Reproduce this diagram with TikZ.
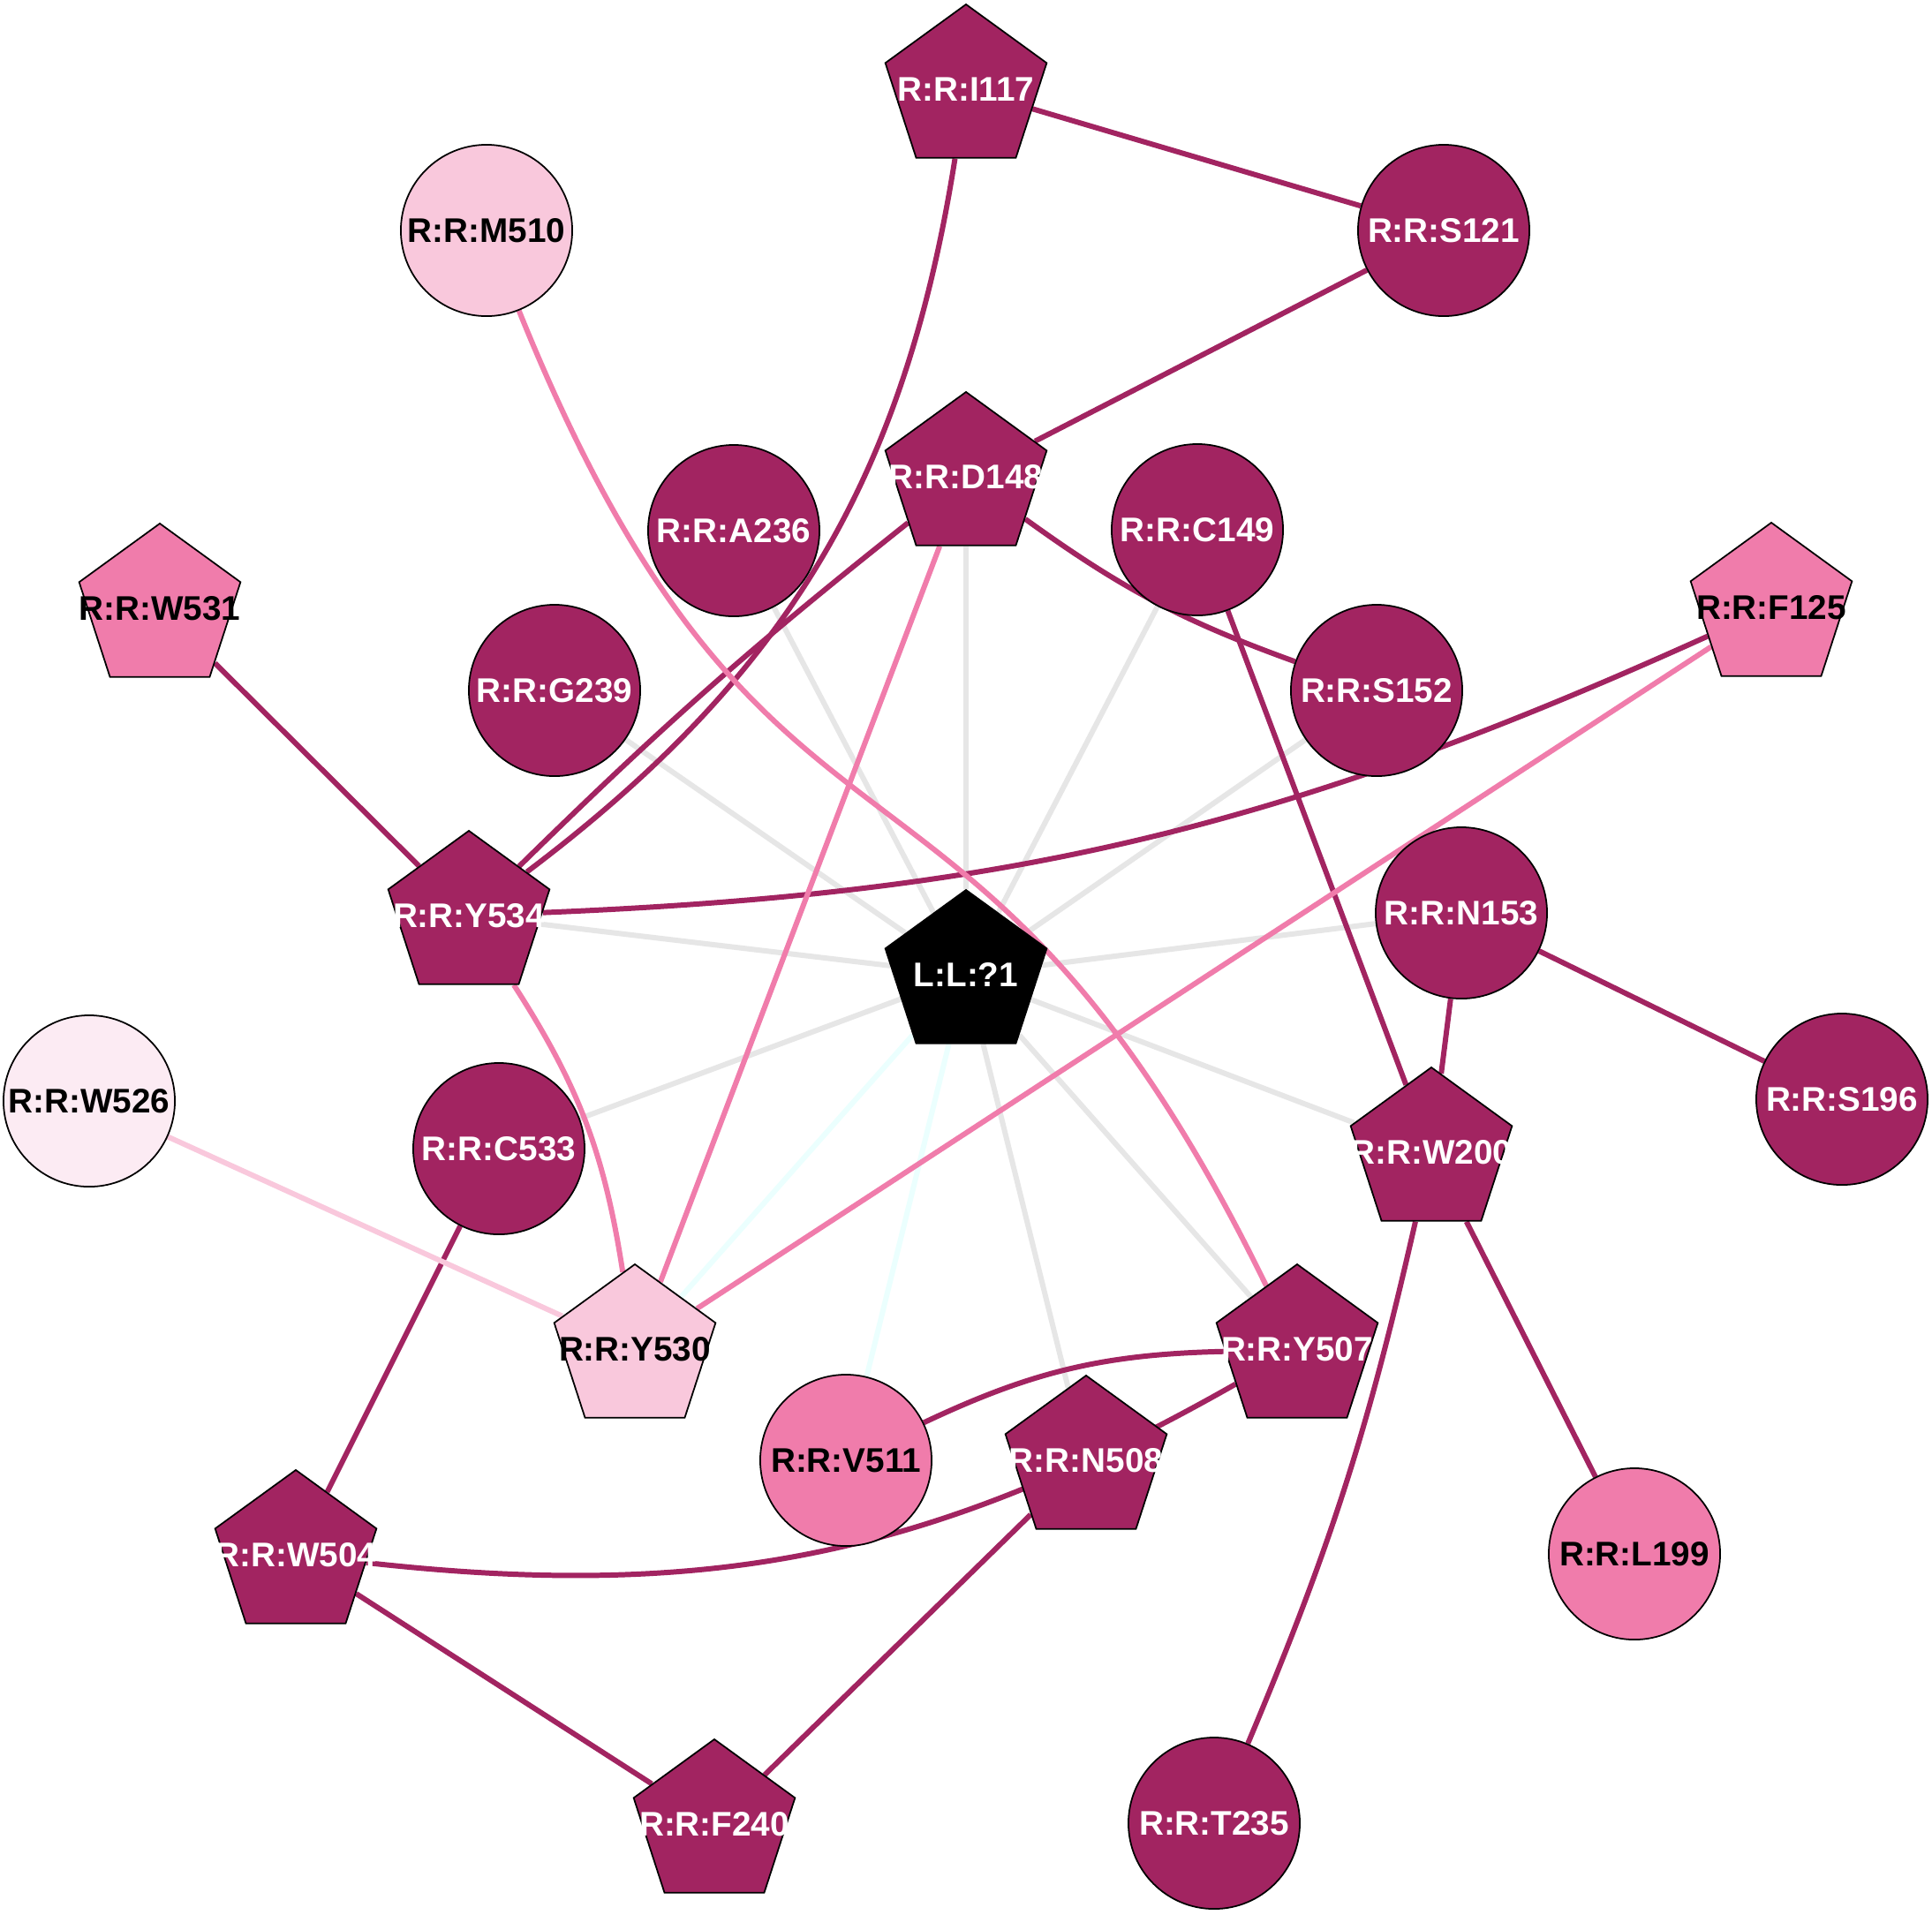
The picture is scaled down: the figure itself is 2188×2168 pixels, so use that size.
\documentclass[tikz,border=0pt]{standalone}
\usepackage{fontspec}
\setmainfont{Liberation Sans}
\usetikzlibrary{shapes.geometric}
\pgfdeclarelayer{bg}
\pgfsetlayers{bg,main}

\definecolor{resdark}{HTML}{A22461}
\definecolor{respink}{HTML}{F07CAB}
\definecolor{reslight}{HTML}{F9C8DC}
\definecolor{respale}{HTML}{FCEBF3}
\definecolor{contgray}{HTML}{E6E6E6}
\definecolor{contcyan}{HTML}{EBFFFE}

\newcommand{\rl}[1]{\makebox[0pt]{#1}}

\tikzset{
  res/.style={draw=black, line width=0.5pt, inner sep=0pt,
    font=\bfseries\fontsize{11}{13}\selectfont},
  resc/.style={res, circle, minimum size=1.94cm},
  resp/.style={res, regular polygon, regular polygon sides=5, minimum size=1.92cm},
  dk/.style={fill=resdark, text=white},
  pk/.style={fill=respink},
  lt/.style={fill=reslight},
  pl/.style={fill=respale},
  link/.style={line width=1.7pt}
}

\begin{document}
\begin{tikzpicture}[x=0.01cm, y=0.01cm]
\useasboundingbox (0,0) rectangle (2188,-2168);
% ligand
\node[resp, fill=black, text=white] (lig) at (1094,-1104) {\rl{L:L:?1}};
% pentagons
\node[resp,dk] (i117) at (1094,-101) {\rl{R:R:I117}};
\node[resp,dk] (d148) at (1094,-540) {\rl{R:R:D148}};
\node[resp,pk] (w531) at (181,-689) {\rl{R:R:W531}};
\node[resp,pk] (f125) at (2006,-688) {\rl{R:R:F125}};
\node[resp,dk] (y534) at (531,-1037) {\rl{R:R:Y534}};
\node[resp,dk] (w200) at (1621,-1305) {\rl{R:R:W200}};
\node[resp,lt] (y530) at (719,-1528) {\rl{R:R:Y530}};
\node[resp,dk] (y507) at (1469,-1528) {\rl{R:R:Y507}};
\node[resp,dk] (n508) at (1230,-1654) {\rl{R:R:N508}};
\node[resp,dk] (w504) at (335,-1761) {\rl{R:R:W504}};
\node[resp,dk] (f240) at (809,-2066) {\rl{R:R:F240}};
% circles
\node[resc,lt] (m510) at (551,-261) {\rl{R:R:M510}};
\node[resc,dk] (s121) at (1635,-261) {\rl{R:R:S121}};
\node[resc,dk] (a236) at (831,-601) {\rl{R:R:A236}};
\node[resc,dk] (c149) at (1356,-600) {\rl{R:R:C149}};
\node[resc,dk] (g239) at (628,-782) {\rl{R:R:G239}};
\node[resc,dk] (s152) at (1559,-782) {\rl{R:R:S152}};
\node[resc,dk] (n153) at (1655,-1034) {\rl{R:R:N153}};
\node[resc,pl] (w526) at (101,-1247) {\rl{R:R:W526}};
\node[resc,dk] (c533) at (565,-1301) {\rl{R:R:C533}};
\node[resc,dk] (s196) at (2086,-1245) {\rl{R:R:S196}};
\node[resc,pk] (v511) at (958,-1654) {\rl{R:R:V511}};
\node[resc,pk] (l199) at (1851,-1760) {\rl{R:R:L199}};
\node[resc,dk] (t235) at (1375,-2065) {\rl{R:R:T235}};

\begin{pgfonlayer}{bg}
\fill[white] (0,0) rectangle (2188,-2168);
\foreach \r in {a236,g239,y534,c533,d148,c149,s152,n153,w200,y507,n508}
  \draw[link, contgray] (lig) -- (\r);
\foreach \r in {y530,v511}
  \draw[link, contcyan] (lig) -- (\r);
\foreach \a/\b in {i117/s121,s121/d148,w531/y534,c149/w200,n153/w200,n153/s196,w200/l199,c533/w504,w504/f240,n508/f240}
  \draw[link, resdark] (\a) -- (\b);
\draw[link, resdark] (i117) to[bend left=22] (y534);
\draw[link, resdark] (d148) to[bend right=3] (y534);
\draw[link, resdark] (d148) to[bend right=8] (s152);
\draw[link, resdark] (y534) to[bend right=11] (f125);
\draw[link, resdark] (v511) to[bend left=12] (y507);
\draw[link, resdark] (w504) to[bend right=18] (y507);
\draw[link, resdark] (w200) to[bend left=5] (t235);
\foreach \a/\b in {d148/y530,f125/y530}
  \draw[link, respink] (\a) -- (\b);
\draw[link, respink] (y534) to[bend left=12] (y530);
\draw[link, respink] (m510) to[out=-68, in=116, looseness=1.4] (y507);
\draw[link, reslight] (w526) -- (y530);
\end{pgfonlayer}
\end{tikzpicture}
\end{document}
